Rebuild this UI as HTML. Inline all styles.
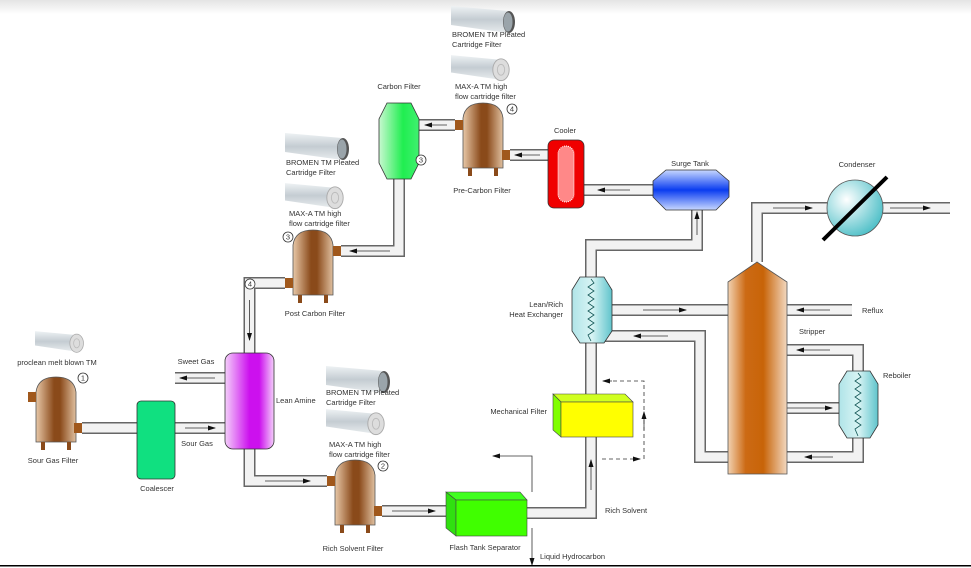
<!DOCTYPE html>
<html><head><meta charset="utf-8"><style>
html,body{margin:0;padding:0;background:#fff;}
svg{display:block;}
text{font-family:"Liberation Sans",sans-serif;font-size:7.5px;fill:#333;}
</style></head><body>
<svg width="971" height="568" viewBox="0 0 971 568" xmlns="http://www.w3.org/2000/svg">
<defs>
<linearGradient id="top" x1="0" y1="0" x2="0" y2="1"><stop offset="0" stop-color="#e4e4e4"/><stop offset="1" stop-color="#fff"/></linearGradient>
<linearGradient id="brown" x1="0" y1="0" x2="1" y2="0"><stop offset="0" stop-color="#e8c8a8"/><stop offset="0.45" stop-color="#8a4a1a"/><stop offset="0.6" stop-color="#8a4a1a"/><stop offset="1" stop-color="#e0c0a0"/></linearGradient>
<linearGradient id="orange" x1="0" y1="0" x2="1" y2="0"><stop offset="0" stop-color="#f2d2b2"/><stop offset="0.3" stop-color="#cc6a14"/><stop offset="0.6" stop-color="#c86408"/><stop offset="1" stop-color="#f2d8c0"/></linearGradient>
<linearGradient id="purple" x1="0" y1="0" x2="1" y2="0"><stop offset="0" stop-color="#f4d0fa"/><stop offset="0.5" stop-color="#cc10ee"/><stop offset="0.7" stop-color="#cc10ee"/><stop offset="1" stop-color="#f4d0fa"/></linearGradient>
<linearGradient id="green" x1="0" y1="0" x2="1" y2="0"><stop offset="0" stop-color="#c8f8d0"/><stop offset="0.6" stop-color="#20ee50"/><stop offset="1" stop-color="#40f070"/></linearGradient>
<linearGradient id="blue" x1="0" y1="0" x2="0" y2="1"><stop offset="0" stop-color="#c8d8ff"/><stop offset="0.5" stop-color="#0a3cf0"/><stop offset="1" stop-color="#c8d8ff"/></linearGradient>
<linearGradient id="cyan" x1="0" y1="0" x2="1" y2="0"><stop offset="0" stop-color="#b0e4e8"/><stop offset="0.5" stop-color="#d8f4f4"/><stop offset="1" stop-color="#60c4cc"/></linearGradient>
<radialGradient id="cond" cx="0.35" cy="0.35" r="0.7"><stop offset="0" stop-color="#fff"/><stop offset="1" stop-color="#50c0c8"/></radialGradient>
<linearGradient id="cart" x1="0" y1="0" x2="0" y2="1"><stop offset="0" stop-color="#eef2f4"/><stop offset="0.5" stop-color="#c4ccd2"/><stop offset="1" stop-color="#e8ecee"/></linearGradient>
<symbol id="cartA" viewBox="0 0 66 30"><path d="M0,2 L57,7 L57,29 L0,21 Z" fill="url(#cart)"/><ellipse cx="58" cy="18" rx="6" ry="11" fill="#555"/><ellipse cx="57" cy="18" rx="4.5" ry="9.5" fill="#9aa4aa"/></symbol>
<symbol id="cartB" viewBox="0 0 66 30"><path d="M0,2 L54,7 L54,29 L0,21 Z" fill="url(#cart)"/><ellipse cx="55" cy="18" rx="9" ry="12" fill="#ddd" stroke="#aaa"/><ellipse cx="55" cy="18" rx="4" ry="6" fill="none" stroke="#bbb"/></symbol>
<g id="vessel"><path d="M0,15 Q2,0 20,0 Q38,0 40,15 L40,65 L0,65 Z" fill="url(#brown)" stroke="#555" stroke-width="0.8"/><rect x="5" y="65" width="4" height="8" fill="#8a4a1a"/><rect x="31" y="65" width="4" height="8" fill="#8a4a1a"/></g>
<marker id="ah" markerWidth="8" markerHeight="6" refX="7" refY="3" orient="auto" markerUnits="userSpaceOnUse"><path d="M0,0.5 L8,3 L0,5.5 Z" fill="#111"/></marker>
</defs>
<rect x="0" y="0" width="971" height="14" fill="url(#top)"/>
<g fill="none" stroke-linejoin="miter">
<g stroke="#666" stroke-width="12">
<polyline points="82,428 137,428"/><polyline points="175,428 225,428"/><polyline points="175,378 225,378"/>
<polyline points="249.5,449 249.5,481 327,481"/><polyline points="382,511 456,511"/>
<polyline points="527,513 591,513 591,343"/><polyline points="591,277 591,245 697,245 697,210"/>
<polyline points="653,190 583,190"/><polyline points="548,155 510,155"/><polyline points="455,125 419,125"/>
<polyline points="399,179 399,251 341,251"/><polyline points="285,283 249.5,283 249.5,353"/>
<polyline points="757,262 757,208 827,208"/><polyline points="883,208 950,208"/>
<polyline points="612,310 728,310"/><polyline points="787,310 852,310"/>
<polyline points="604,336 700,336 700,457 728,457"/>
<polyline points="787,350 858,350 858,371"/><polyline points="787,408 839,408"/><polyline points="858,438 858,457 787,457"/>
</g>
<g stroke="#f2f2f2" stroke-width="9">
<polyline points="82,428 137,428"/><polyline points="175,428 225,428"/><polyline points="175,378 225,378"/>
<polyline points="249.5,449 249.5,481 327,481"/><polyline points="382,511 456,511"/>
<polyline points="527,513 591,513 591,343"/><polyline points="591,277 591,245 697,245 697,210"/>
<polyline points="653,190 583,190"/><polyline points="548,155 510,155"/><polyline points="455,125 419,125"/>
<polyline points="399,179 399,251 341,251"/><polyline points="285,283 249.5,283 249.5,353"/>
<polyline points="757,262 757,208 827,208"/><polyline points="883,208 950,208"/>
<polyline points="612,310 728,310"/><polyline points="787,310 852,310"/>
<polyline points="604,336 700,336 700,457 728,457"/>
<polyline points="787,350 858,350 858,371"/><polyline points="787,408 839,408"/><polyline points="858,438 858,457 787,457"/>
</g>
<g stroke="#333" stroke-width="0.8" marker-end="url(#ah)">
<line x1="185" y1="428" x2="215" y2="428"/><line x1="215" y1="378" x2="180" y2="378"/>
<line x1="265" y1="481" x2="310" y2="481"/><line x1="392" y1="511" x2="435" y2="511"/>
<line x1="591" y1="490" x2="591" y2="460"/><line x1="697" y1="235" x2="697" y2="212"/>
<line x1="630" y1="190" x2="598" y2="190"/><line x1="540" y1="155" x2="515" y2="155"/><line x1="447" y1="125" x2="425" y2="125"/>
<line x1="390" y1="251" x2="350" y2="251"/><line x1="249.5" y1="300" x2="249.5" y2="340"/>
<line x1="773" y1="208" x2="812" y2="208"/><line x1="890" y1="208" x2="930" y2="208"/>
<line x1="643" y1="310" x2="686" y2="310"/><line x1="830" y1="310" x2="797" y2="310"/>
<line x1="668" y1="336" x2="634" y2="336"/><line x1="830" y1="350" x2="797" y2="350"/>
<line x1="787" y1="408" x2="832" y2="408"/><line x1="833" y1="457" x2="805" y2="457"/>
</g>
</g>
<use href="#cartB" x="35" y="326" width="50" height="30"/>
<use href="#cartA" x="326" y="364" width="66" height="30"/>
<use href="#cartB" x="326" y="406" width="60" height="30"/>
<use href="#cartA" x="285" y="131" width="66" height="30"/>
<use href="#cartB" x="285" y="180" width="60" height="30"/>
<use href="#cartA" x="451" y="4" width="66" height="30"/>
<use href="#cartB" x="451" y="52" width="60" height="30"/>
<use href="#vessel" x="36" y="377"/><rect x="28" y="392" width="8" height="10" fill="#a0581c"/><rect x="74" y="423" width="8" height="10" fill="#a0581c"/>
<use href="#vessel" x="335" y="460"/><rect x="327" y="476" width="8" height="10" fill="#a0581c"/><rect x="374" y="506" width="8" height="10" fill="#a0581c"/>
<use href="#vessel" x="463" y="103"/><rect x="455" y="120" width="8" height="10" fill="#a0581c"/><rect x="502" y="150" width="8" height="10" fill="#a0581c"/>
<use href="#vessel" x="293" y="230"/><rect x="285" y="278" width="8" height="10" fill="#a0581c"/><rect x="333" y="246" width="8" height="10" fill="#a0581c"/>
<rect x="137" y="401" width="38" height="78" rx="4" fill="#10e080" stroke="#333" stroke-width="0.8"/>
<rect x="225" y="353" width="49" height="96" rx="8" fill="url(#purple)" stroke="#333" stroke-width="0.8"/>
<polygon points="387,103 411,103 419,119 419,163 411,179 387,179 379,163 379,119" fill="url(#green)" stroke="#333" stroke-width="0.8"/>
<rect x="548" y="140" width="36" height="68" rx="6" fill="#f00000" stroke="#333" stroke-width="0.8"/>
<rect x="558" y="146" width="16" height="56" rx="8" fill="#f88" stroke="#fff" stroke-width="1" stroke-dasharray="1 1"/>
<polygon points="666,170 716,170 729,181 729,197 716,210 666,210 653,197 653,181" fill="url(#blue)" stroke="#333" stroke-width="0.8"/>
<polygon points="580,277 604,277 612,290 612,331 604,343 580,343 572,331 572,290" fill="url(#cyan)" stroke="#333" stroke-width="0.8"/>
<polyline points="591,279 594,283 588,287 594,291 588,295 594,299 588,303 594,307 588,311 594,315 588,319 594,323 588,327 594,331 588,335 591,341" fill="none" stroke="#155" stroke-width="0.8"/>
<polygon points="847,371 870,371 878,384 878,425 870,438 847,438 839,425 839,384" fill="url(#cyan)" stroke="#333" stroke-width="0.8"/>
<polyline points="858,373 861,377 855,381 861,385 855,389 861,393 855,397 861,401 855,405 861,409 855,413 861,417 855,421 861,425 855,429 858,436" fill="none" stroke="#155" stroke-width="0.8"/>
<polygon points="757,262 787,282 787,474 728,474 728,282" fill="url(#orange)" stroke="#555" stroke-width="0.8"/>
<circle cx="855" cy="208" r="28" fill="url(#cond)" stroke="#555" stroke-width="0.8"/>
<line x1="823" y1="240" x2="887" y2="177" stroke="#000" stroke-width="4"/>
<polygon points="553,394 625,394 633,402 561,402" fill="#d0ff20" stroke="#444" stroke-width="0.6"/>
<polygon points="553,394 561,402 561,437 553,430" fill="#80ff00" stroke="#444" stroke-width="0.6"/>
<rect x="561" y="402" width="72" height="35" fill="#ffff00" stroke="#444" stroke-width="0.6"/>
<polygon points="446,492 520,492 527,500 456,500" fill="#40ff20" stroke="#444" stroke-width="0.6"/>
<polygon points="446,492 456,500 456,536 446,528" fill="#30e010" stroke="#444" stroke-width="0.6"/>
<rect x="456" y="500" width="71" height="36" fill="#40ff00" stroke="#444" stroke-width="0.6"/>
<g fill="none" stroke="#333" stroke-width="0.8">
<polyline points="644,459 644,381 606,381" stroke-dasharray="4 3"/>
<line x1="602" y1="459" x2="640" y2="459" stroke-dasharray="4 3" marker-end="url(#ah)"/>
<line x1="644" y1="430" x2="644" y2="412" marker-end="url(#ah)"/>
<line x1="612" y1="381" x2="603" y2="381" marker-end="url(#ah)"/>
<polyline points="532,492 532,456 493,456" marker-end="url(#ah)"/>
<line x1="532" y1="528" x2="532" y2="565" marker-end="url(#ah)"/>
</g>
<g fill="#fff" stroke="#333" stroke-width="0.8">
<circle cx="83" cy="378" r="5"/><circle cx="383" cy="466" r="5"/><circle cx="512" cy="109" r="5"/><circle cx="421" cy="160" r="5"/><circle cx="288" cy="237" r="5"/><circle cx="250" cy="284" r="5"/>
</g>
<g style="font-size:7px" text-anchor="middle">
<text x="83" y="380.5">1</text><text x="383" y="468.5">2</text><text x="512" y="111.5">4</text><text x="421" y="162.5">3</text><text x="288" y="239.5">3</text><text x="250" y="286.5">4</text>
</g>
<g text-anchor="middle">
<text x="57" y="365">proclean melt blown TM</text>
<text x="53" y="463">Sour Gas Filter</text>
<text x="157" y="491">Coalescer</text>
<text x="196" y="364">Sweet Gas</text>
<text x="197" y="446">Sour Gas</text>
<text x="353" y="551">Rich Solvent Filter</text>
<text x="485" y="550">Flash Tank Separator</text>
<text x="399" y="89">Carbon Filter</text>
<text x="482" y="193">Pre-Carbon Filter</text>
<text x="315" y="316">Post Carbon Filter</text>
<text x="565" y="133">Cooler</text>
<text x="690" y="166">Surge Tank</text>
<text x="857" y="167">Condenser</text>
</g>
<text x="276" y="403">Lean Amine</text>
<text x="326" y="395">BROMEN TM Pleated</text><text x="326" y="405">Cartridge Filter</text>
<text x="329" y="447">MAX-A  TM high</text><text x="329" y="457">flow cartridge filter</text>
<text x="286" y="165">BROMEN TM Pleated</text><text x="286" y="175">Cartridge Filter</text>
<text x="289" y="216">MAX-A  TM high</text><text x="289" y="226">flow cartridge filter</text>
<text x="452" y="37">BROMEN TM Pleated</text><text x="452" y="47">Cartridge Filter</text>
<text x="455" y="89">MAX-A  TM high</text><text x="455" y="99">flow cartridge filter</text>
<g text-anchor="end">
<text x="563" y="307">Lean/Rich</text><text x="563" y="317">Heat Exchanger</text>
<text x="547" y="414">Mechanical Filter</text>
</g>
<text x="605" y="513">Rich Solvent</text>
<text x="540" y="559">Liquid Hydrocarbon</text>
<text x="862" y="313">Reflux</text>
<text x="799" y="334">Stripper</text>
<text x="883" y="378">Reboiler</text>
<rect x="0" y="565" width="971" height="1.5" fill="#000"/>
</svg>
</body></html>
